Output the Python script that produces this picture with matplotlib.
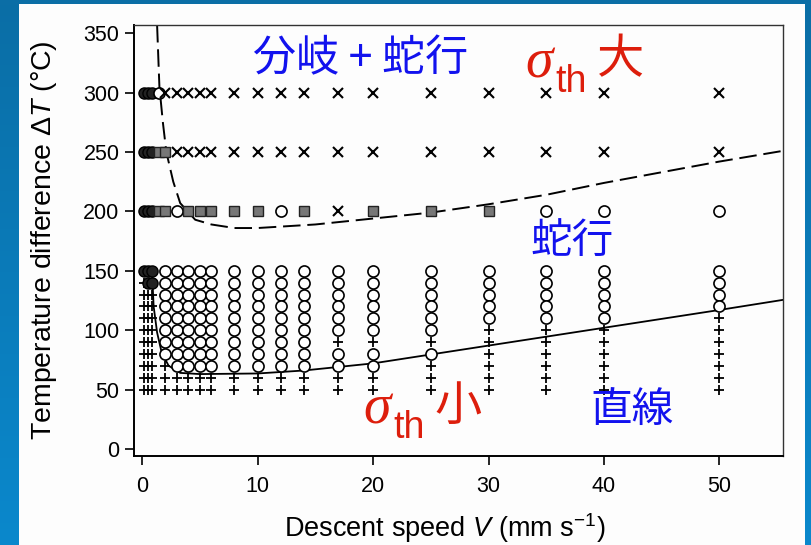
import numpy as np
import matplotlib.pyplot as plt
from matplotlib.patches import Rectangle
from matplotlib.colors import LinearSegmentedColormap

plt.rcParams['font.family'] = ['Liberation Sans', 'DejaVu Sans']
plt.rcParams['mathtext.fontset'] = 'custom'
plt.rcParams['mathtext.rm'] = 'Liberation Sans'
plt.rcParams['mathtext.it'] = 'Liberation Sans:italic'

# lower block: rows 150..50 step 10, one code string per column (top to bottom)
low_rows = [150, 140, 130, 120, 110, 100, 90, 80, 70, 60, 50]
low_speeds = [0.2, 0.5, 0.9, 2, 3, 4, 5, 6, 8, 10, 12, 14, 17, 20, 25, 30, 35, 40, 50]
low_codes = ['d++++++++++', 'dd+++++++++', 'dd+++++++++',
             'oooooooo+++',
             'ooooooooo++', 'ooooooooo++', 'ooooooooo++', 'ooooooooo++',
             'ooooooooo++', 'ooooooooo++', 'ooooooooo++', 'ooooooooo++',
             'oooooo+oo++', 'oooooo+oo++', 'oooooo+o+++',
             'ooooo++++++', 'ooooo++++++', 'ooooo++++++', 'oooo+++++++']

# upper block: rows 300, 250, 200, one code string per row (left to right)
up_rows = [300, 250, 200]
up_speeds = [0.2, 0.5, 0.9, 1.5, 2, 3, 4, 5, 6, 8, 10, 12, 14, 17, 20, 25, 30, 35, 40, 50]
up_codes = ['dddoxxxxxxxxxxxxxxxx',
            'dddssxxxxxxxxxxxxxxx',
            'dddssosssssosxsssooo']

# boundary curves
solid_v = [0.85, 0.9, 1.0, 1.3, 1.7, 2.3, 3.3, 5, 10, 14, 17, 20, 25, 30, 35, 40, 50, 55.5]
solid_t = [152, 141, 120, 98, 81, 70, 64, 63, 63.5, 66, 69, 72, 79.5, 87, 94.5, 102, 117, 125.5]
dash_v = [1.3, 1.5, 1.8, 2.1, 2.7, 3.3, 4.6, 6, 8, 10, 15, 20, 25, 30, 35, 40, 50, 55.5]
dash_t = [357, 305, 275, 250, 225, 207, 193, 189, 186, 186, 189, 194, 199, 206, 214, 224, 242, 251]

styles = {
    '+': dict(marker='+', color='black', ms=6.5, mew=1.3, ls='none'),
    'o': dict(marker='o', mfc='white', mec='black', ms=8, mew=1.2, ls='none'),
    'x': dict(marker='x', color='black', ms=6.5, mew=1.5, ls='none'),
    's': dict(marker='s', mfc='#777777', mec='#222222', ms=7, mew=1.0, ls='none'),
    'd': dict(marker='o', mfc='#222222', mec='black', ms=8, mew=1.0, ls='none'),
}

fig = plt.figure(figsize=(8.12, 5.45), dpi=100)

# slide background
bg = fig.add_axes([0, 0, 1, 1], zorder=-10)
cmap = LinearSegmentedColormap.from_list('slide', ['#0b6ea6', '#0a88cc'])
bg.imshow(np.linspace(0, 1, 100).reshape(-1, 1), aspect='auto', cmap=cmap, extent=[0, 1, 0, 1])
bg.set_axis_off()
fig.patches.append(Rectangle((19 / 812, 0), 786 / 812, 541 / 545, transform=fig.transFigure,
                             facecolor='#fdfdfd', edgecolor='none', zorder=-5))

ax = fig.add_axes([134 / 812, 1 - 456 / 545, 649 / 812, 431 / 545])
ax.set_facecolor('none')

for v, code in zip(low_speeds, low_codes):
    for t, c in zip(low_rows, code):
        ax.plot(v, t, **styles[c], zorder=3)
for t, code in zip(up_rows, up_codes):
    for v, c in zip(up_speeds, code):
        ax.plot(v, t, **styles[c], zorder=3)

ax.plot(solid_v, solid_t, color='black', lw=1.3, zorder=2)
ax.plot(dash_v, dash_t, color='black', lw=1.4, ls=(0, (9, 3.5)), zorder=2)

ax.set_xlim(-0.7, 55.5)
ax.set_ylim(-6, 357)
ax.set_xticks([0, 10, 20, 30, 40, 50])
ax.set_yticks([0, 50, 100, 150, 200, 250, 300, 350])
ax.tick_params(direction='out', length=6.5, width=1.2, labelsize=15.5, colors='black')
ax.tick_params(axis='x', pad=8)
ax.tick_params(axis='y', pad=4)
for s in ['left', 'bottom']:
    ax.spines[s].set_linewidth(1.4)
for s in ['top', 'right']:
    ax.spines[s].set_linewidth(1.0)
    ax.spines[s].set_color('#333333')

ax.set_xlabel('Descent speed $V$ (mm s$^{-1}$)', fontsize=19.5)
ax.set_ylabel('Temperature difference Δ$T$ (°C)', fontsize=20.5)
ax.xaxis.set_label_coords(0.479, -0.127)
ax.yaxis.set_label_coords(-0.115, 0.5)

# slide annotations
blue = '#1212ee'
red = '#dd1e0c'
cjk = ['Noto Sans CJK JP', 'DejaVu Sans']
fig.text(253 / 812, 1 - 59 / 545, '分岐 + 蛇行', color=blue, fontsize=31, family=cjk, ha='left', va='center')
fig.text(530 / 812, 1 - 242 / 545, '蛇行', color=blue, fontsize=30, family=cjk, ha='left', va='center')
fig.text(590 / 812, 1 - 410 / 545, '直線', color=blue, fontsize=30, family=cjk, ha='left', va='center')

fig.text(525 / 812, 1 - 77 / 545, 'σ', color=red, fontsize=40, family='Liberation Serif', style='italic', va='baseline')
fig.text(555 / 812, 1 - 92 / 545, 'th', color=red, fontsize=27, va='baseline')
fig.text(597 / 812, 1 - 60 / 545, '大', color=red, fontsize=34, family=cjk, ha='left', va='center')

fig.text(363 / 812, 1 - 423 / 545, 'σ', color=red, fontsize=40, family='Liberation Serif', style='italic', va='baseline')
fig.text(393 / 812, 1 - 438 / 545, 'th', color=red, fontsize=27, va='baseline')
fig.text(434 / 812, 1 - 407 / 545, '小', color=red, fontsize=34, family=cjk, ha='left', va='center')

fig.savefig('out.png', dpi=100)
